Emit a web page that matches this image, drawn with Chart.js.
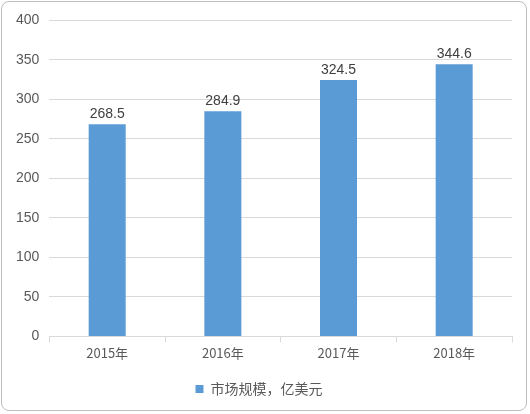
<!DOCTYPE html>
<html><head><meta charset="utf-8">
<script src="https://cdn.jsdelivr.net/npm/chart.js@4/dist/chart.umd.min.js"></script>
<style>
html,body{margin:0;padding:0;background:#fff;}
#wrap{position:absolute;left:1px;top:1px;width:526px;height:410px;border:1px solid #bfbfbf;border-radius:8px;box-sizing:border-box;}
canvas{display:block;}
</style></head><body>
<div id="wrap"><canvas id="c"></canvas></div>
<script>
const categories = ["2015年","2016年","2017年","2018年"];
const seriesName = "市场规模，亿美元";
const values = [268.5, 284.9, 324.5, 344.6];
const yTicks = [0,50,100,150,200,250,300,350,400];

const labelPlugin = {
  id:'lbl',
  afterDatasetsDraw(chart){
    const ctx = chart.ctx;
    const meta = chart.getDatasetMeta(0);
    ctx.save();
    ctx.fillStyle = '#404040';
    ctx.font = '14px "Liberation Sans", Arial, sans-serif';
    ctx.textAlign = 'center';
    ctx.textBaseline = 'bottom';
    meta.data.forEach((b,i)=>{ ctx.fillText(values[i].toFixed(1), b.x, b.y-3); });
    ctx.restore();
  }
};

new Chart(document.getElementById('c'), {
  type:'bar',
  data:{labels:categories, datasets:[{label:seriesName, data:values, backgroundColor:'#5B9BD5', barPercentage:0.64, categoryPercentage:0.5}]},
  options:{
    responsive:true, maintainAspectRatio:false, animation:false,
    layout:{padding:{left:4,right:14,top:10,bottom:4}},
    plugins:{
      legend:{position:'bottom', labels:{boxWidth:8, boxHeight:8, color:'#595959', font:{size:14, family:'"Noto Sans CJK SC", sans-serif'}, padding:18}},
      tooltip:{enabled:false}
    },
    scales:{
      x:{grid:{display:true, drawOnChartArea:false, drawTicks:true, tickLength:6, color:'#d9d9d9', offset:true}, border:{color:'#d9d9d9'},
         ticks:{color:'#595959', font:{size:13, family:'"Noto Sans CJK SC", sans-serif'}}},
      y:{min:0,max:400, afterBuildTicks(a){a.ticks=yTicks.map(v=>({value:v}));},
         grid:{color:'#d9d9d9', drawTicks:false}, border:{display:false},
         ticks:{color:'#595959', padding:10, font:{size:14, family:'"Liberation Sans", Arial, sans-serif'}}}
    }
  },
  plugins:[labelPlugin]
});
</script>
</body></html>
